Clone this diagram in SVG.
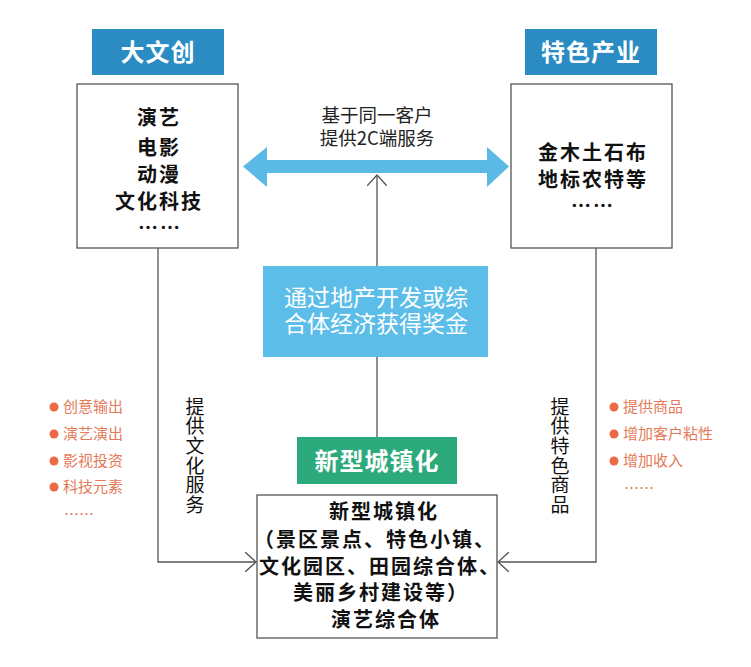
<svg xmlns="http://www.w3.org/2000/svg" width="751" height="667" viewBox="0 0 751 667">
<defs>
<style>
.t{font-family:"Noto Sans CJK SC","Noto Sans",sans-serif;}
.box{fill:#fff;stroke:#555;stroke-width:1.3;}
.bt{font-size:20px;font-weight:bold;fill:#111;letter-spacing:2px;}
.lab{font-size:24px;font-weight:bold;fill:#fff;text-anchor:middle;letter-spacing:1px;}
.ln{fill:none;stroke:#555;stroke-width:1.3;}
.or{font-size:15px;fill:#e47a58;}
.dot{fill:#ea6a45;}
.vt{font-size:19px;fill:#111;writing-mode:tb;letter-spacing:0.6px;}
</style>
<marker id="oa" viewBox="0 0 12 20" refX="11" refY="10" markerWidth="12" markerHeight="20" markerUnits="userSpaceOnUse" orient="auto">
<path d="M0,0 L11,10 L0,20" fill="none" stroke="#555" stroke-width="1.3"/>
</marker>
</defs>
<rect width="751" height="667" fill="#fff"/>

<g id="connectors">
<path class="ln" d="M158,248 V562 H256" marker-end="url(#oa)"/>
<path class="ln" d="M596,248 V562 H498" marker-end="url(#oa)"/>
<path class="ln" d="M377,437 V357"/>
<path class="ln" d="M377,266 V175" marker-end="url(#oa)"/>
<polygon id="double-arrow" fill="#5bb9e5" points="243,166.5 267,147 267,160 487,160 487,147 509,166.5 487,187 487,173 267,173 267,187"/>
<text class="t" x="377" y="122" font-size="18.5" fill="#222" text-anchor="middle">基于同一客户</text>
<text class="t" x="377" y="145" font-size="18.5" fill="#222" text-anchor="middle">提供2C端服务</text>
<text class="t vt" x="195" y="397">提供文化服务</text>
<text class="t vt" x="560" y="397">提供特色商品</text>
</g>

<g id="node-dawenchuang">
<rect x="92" y="29" width="132" height="46" fill="#2b8cc4"/>
<text class="t lab" x="158" y="61">大文创</text>
<rect class="box" x="77" y="84" width="161" height="164"/>
<text class="t bt" x="137" y="125">演艺</text>
<text class="t bt" x="137" y="155">电影</text>
<text class="t bt" x="137" y="182">动漫</text>
<text class="t bt" x="115" y="209">文化科技</text>
<text class="t bt" x="138" y="235">……</text>
</g>

<g id="node-tese">
<rect x="525" y="29" width="132" height="46" fill="#2b8cc4"/>
<text class="t lab" x="591" y="61">特色产业</text>
<rect class="box" x="511" y="84" width="161" height="164"/>
<text class="t bt" x="538" y="160">金木土石布</text>
<text class="t bt" x="538" y="187">地标农特等</text>
<text class="t bt" x="571" y="213">……</text>
</g>

<g id="node-middle">
<rect x="263" y="266" width="225" height="91" fill="#5cbde8"/>
<text class="t" x="376" y="306" font-size="23" fill="#fff" text-anchor="middle">通过地产开发或综</text>
<text class="t" x="376" y="332" font-size="23" fill="#fff" text-anchor="middle">合体经济获得奖金</text>
</g>

<g id="node-xinxing">
<rect x="297" y="437" width="160" height="47" fill="#2daa7c"/>
<text class="t lab" x="377" y="470">新型城镇化</text>
<rect class="box" x="257" y="495" width="240" height="143"/>
<text class="t bt" x="329" y="519">新型城镇化</text>
<text class="t bt" x="254" y="547">（景区景点、特色小镇、</text>
<text class="t bt" x="259" y="574">文化园区、田园综合体、</text>
<text class="t bt" x="293" y="600">美丽乡村建设等）</text>
<text class="t bt" x="331" y="627">演艺综合体</text>
</g>

<g id="notes-left">
<circle class="dot" cx="54" cy="407" r="4.5"/><text class="t or" x="63" y="412">创意输出</text>
<circle class="dot" cx="54" cy="434" r="4.5"/><text class="t or" x="63" y="439">演艺演出</text>
<circle class="dot" cx="54" cy="461" r="4.5"/><text class="t or" x="63" y="466">影视投资</text>
<circle class="dot" cx="54" cy="487" r="4.5"/><text class="t or" x="63" y="492">科技元素</text>
<text class="t or" x="64" y="520" font-size="13">……</text>
</g>

<g id="notes-right">
<circle class="dot" cx="614" cy="407" r="4.5"/><text class="t or" x="623" y="412">提供商品</text>
<circle class="dot" cx="614" cy="434" r="4.5"/><text class="t or" x="623" y="439">增加客户粘性</text>
<circle class="dot" cx="614" cy="461" r="4.5"/><text class="t or" x="623" y="466">增加收入</text>
<text class="t or" x="624" y="494" font-size="13">……</text>
</g>
</svg>
